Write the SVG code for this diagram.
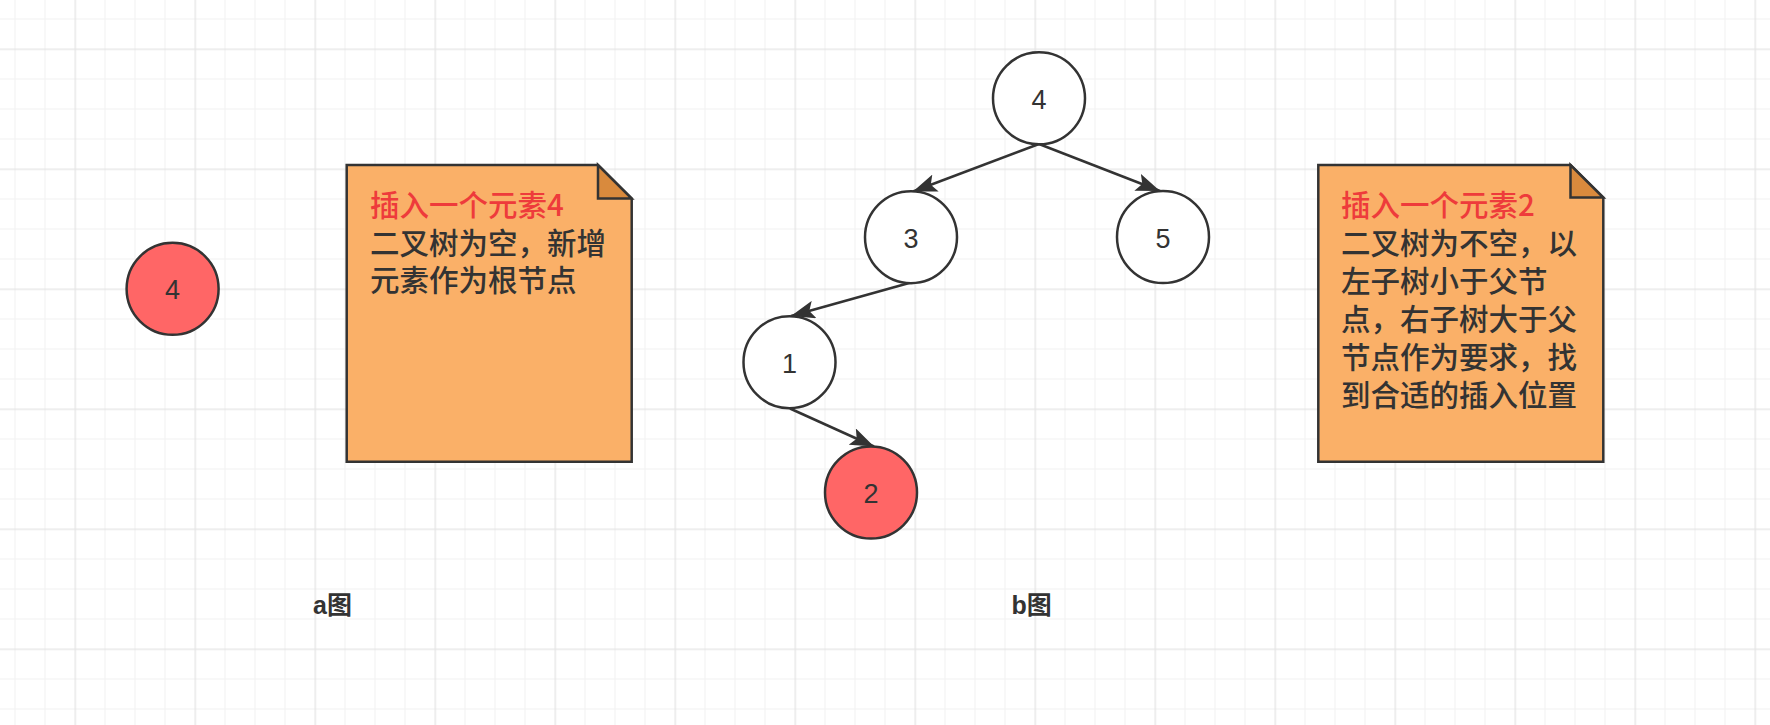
<svg xmlns="http://www.w3.org/2000/svg" width="1770" height="725" viewBox="0 0 1770 725">
  <defs>
    <pattern id="grid" x="74.5" y="48.5" width="120" height="120" patternUnits="userSpaceOnUse">
      <rect x="30" y="0" width="1" height="120" fill="#f1f1f1"/>
      <rect x="60" y="0" width="1" height="120" fill="#f1f1f1"/>
      <rect x="90" y="0" width="1" height="120" fill="#f1f1f1"/>
      <rect x="0" y="30" width="120" height="1" fill="#f1f1f1"/>
      <rect x="0" y="60" width="120" height="1" fill="#f1f1f1"/>
      <rect x="0" y="90" width="120" height="1" fill="#f1f1f1"/>
      <rect x="0" y="0" width="1.4" height="120" fill="#e6e6e6"/>
      <rect x="0" y="0" width="120" height="1.4" fill="#e6e6e6"/>
    </pattern>
    <marker id="arrow" markerUnits="userSpaceOnUse" markerWidth="26" markerHeight="18" refX="24" refY="9" orient="auto">
      <path d="M24,9 L0,0 L5,9 L0,18 Z" fill="#333333"/>
    </marker>
    <style>
      .node { stroke: #333333; stroke-width: 2.5; }
      .white { fill: #ffffff; }
      .red { fill: #ff6666; }
      .num { font-family: "Liberation Sans", Arial, sans-serif; font-size: 27px; fill: #333333; text-anchor: middle; dominant-baseline: central; }
      .note { fill: #fab068; stroke: #333333; stroke-width: 2.5; stroke-linejoin: miter; }
      .fold { fill: #d98a3d; stroke: #333333; stroke-width: 2.5; stroke-linejoin: miter; }
      .ntext { font-family: "Noto Sans CJK SC", "Noto Sans", sans-serif; font-size: 29.5px; fill: #333333; font-weight: 500; }
      .ntitle { fill: #ee3b3b; }
      .label { font-family: "Liberation Sans", "Noto Sans CJK SC", sans-serif; font-size: 25px; font-weight: bold; fill: #333333; }
      .edge { stroke: #333333; stroke-width: 2.5; fill: none; marker-end: url(#arrow); }
    </style>
  </defs>

  <rect x="0" y="0" width="1770" height="725" fill="#ffffff"/>
  <rect x="0" y="0" width="1770" height="725" fill="url(#grid)"/>

  <g id="edges">
    <line class="edge" x1="1039" y1="144" x2="913" y2="191.5"/>
    <line class="edge" x1="1039" y1="144" x2="1160" y2="191"/>
    <line class="edge" x1="911" y1="282.5" x2="791" y2="316"/>
    <line class="edge" x1="790" y1="408.5" x2="874" y2="446.5"/>
  </g>

  <g id="a-node4">
    <circle class="node red" cx="172.6" cy="288.8" r="46"/>
    <text class="num" x="172.6" y="290">4</text>
  </g>

  <g id="note-a">
    <path class="note" d="M346.7,165 H598 L631.7,198.5 V461.7 H346.7 Z"/>
    <path class="fold" d="M598,165 V198.5 H631.7 Z"/>
    <text class="ntext" x="370" y="216"><tspan class="ntitle">插入一个元素4</tspan><tspan x="370" dy="37.7">二叉树为空，新增</tspan><tspan x="370" dy="37.7">元素作为根节点</tspan></text>
  </g>

  <g id="b-node4">
    <circle class="node white" cx="1039" cy="98.3" r="46"/>
    <text class="num" x="1039" y="99.5">4</text>
  </g>
  <g id="b-node3">
    <circle class="node white" cx="911" cy="237.2" r="46"/>
    <text class="num" x="911" y="238.5">3</text>
  </g>
  <g id="b-node5">
    <circle class="node white" cx="1163" cy="237" r="46"/>
    <text class="num" x="1163" y="238.5">5</text>
  </g>
  <g id="b-node1">
    <circle class="node white" cx="789.5" cy="362.2" r="46"/>
    <text class="num" x="789.5" y="363.5">1</text>
  </g>
  <g id="b-node2">
    <circle class="node red" cx="871" cy="492.5" r="46"/>
    <text class="num" x="871" y="494">2</text>
  </g>

  <g id="note-b">
    <path class="note" d="M1318.3,165 H1570.5 L1603.3,197.5 V461.7 H1318.3 Z"/>
    <path class="fold" d="M1570.5,165 V197.5 H1603.3 Z"/>
    <text class="ntext" x="1341" y="216"><tspan class="ntitle">插入一个元素2</tspan><tspan x="1341" dy="38">二叉树为不空，以</tspan><tspan x="1341" dy="38">左子树小于父节</tspan><tspan x="1341" dy="38">点，右子树大于父</tspan><tspan x="1341" dy="38">节点作为要求，找</tspan><tspan x="1341" dy="38">到合适的插入位置</tspan></text>
  </g>

  <g id="label-a">
    <text class="label" x="313" y="613.5">a图</text>
  </g>
  <g id="label-b">
    <text class="label" x="1011.5" y="613.5">b图</text>
  </g>
</svg>
